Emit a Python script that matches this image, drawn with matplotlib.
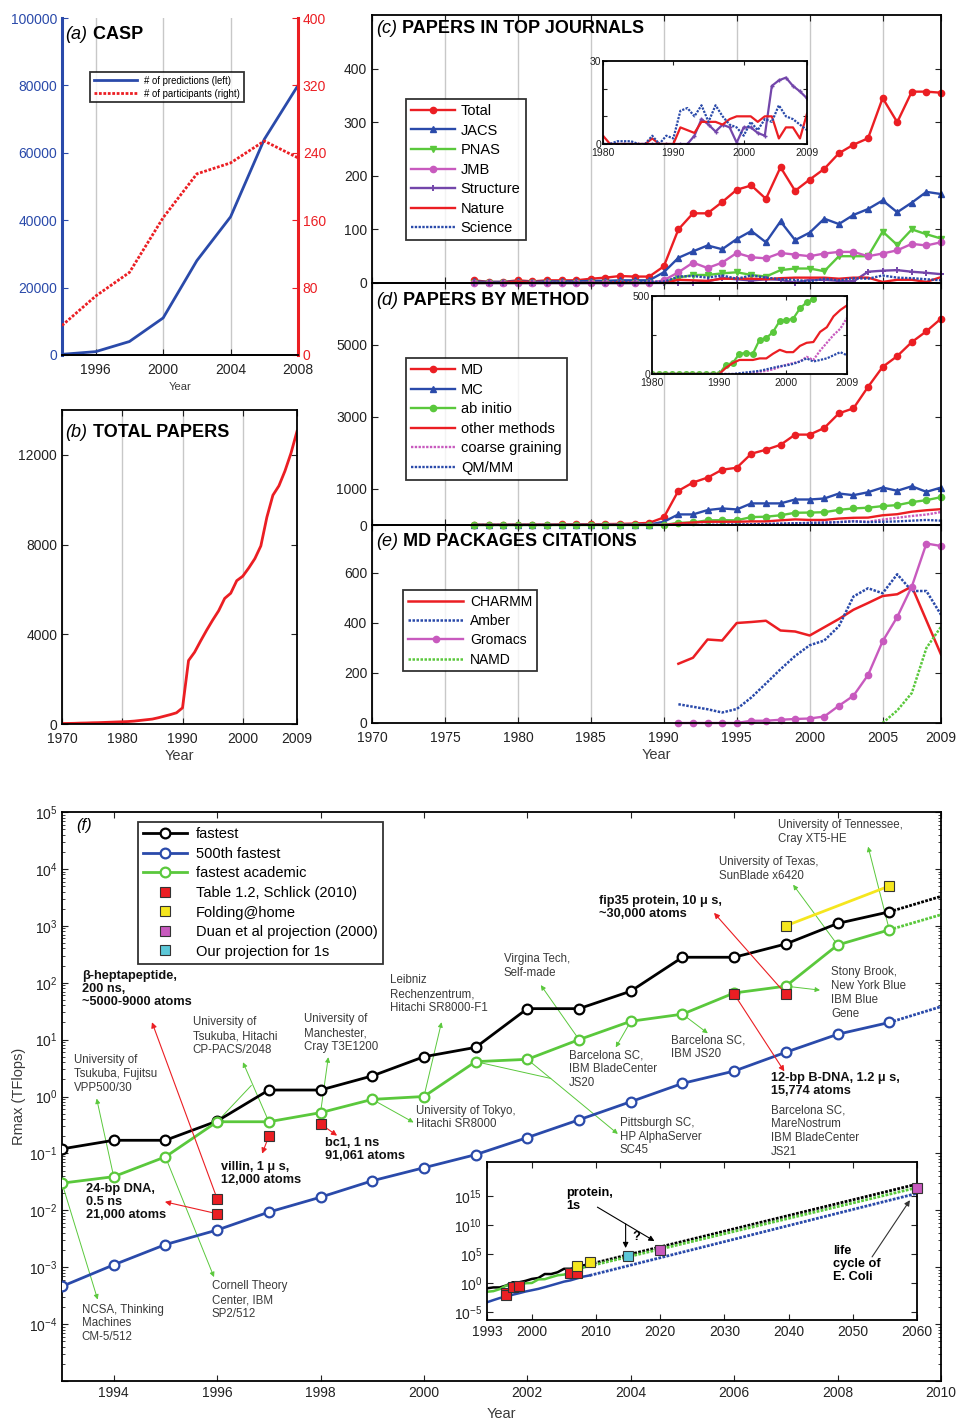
import matplotlib.pyplot as plt
from matplotlib.lines import Line2D
from matplotlib.ticker import LogLocator, NullFormatter

plt.rcParams['font.family'] = ['Liberation Sans', 'DejaVu Sans']
plt.rcParams['mathtext.default'] = 'regular'
plt.rcParams['xtick.direction'] = 'in'
plt.rcParams['ytick.direction'] = 'in'
plt.rcParams['axes.linewidth'] = 1.3
plt.rcParams['xtick.major.size'] = 4
plt.rcParams['ytick.major.size'] = 4
plt.rcParams['xtick.labelsize'] = 10
plt.rcParams['ytick.labelsize'] = 10
plt.rcParams['xtick.color'] = '#222222'
plt.rcParams['ytick.color'] = '#222222'

RED = '#eb1e23'
BLUE = '#2a4aaa'
GREEN = '#5ac83c'
MAG = '#c85abe'
PURP = '#7346aa'
YEL = '#f5e61e'
CYAN = '#5cc8d8'
GRAY = '#3a3a3a'
GRID = '#c8c8c8'

# ---------------- data ----------------
# (a) CASP
casp_years = [1994, 1996, 1998, 2000, 2002, 2004, 2006, 2008]
casp_predictions = [200, 1000, 4000, 11000, 28000, 41000, 64000, 80000]
casp_participants = [35, 70, 98, 163, 215, 228, 254, 234]

# (b) total papers
b_years = list(range(1970, 2010))
total_papers = [20, 25, 30, 40, 45, 55, 60, 70, 80, 90,
                100, 110, 130, 160, 190, 220, 280, 350, 420, 500,
                720, 2830, 3200, 3700, 4180, 4630, 5050, 5600, 5830, 6390,
                6590, 6960, 7370, 7940, 9220, 10200, 10620, 11280, 12075, 13050]

# (c) papers in top journals, 1977-2009
c_years = list(range(1977, 2010))
c_total = [5, 2, 2, 5, 3, 5, 5, 5, 8, 10, 13, 12, 12, 31, 100, 130, 130, 151, 174, 182,
           157, 216, 172, 193, 213, 242, 258, 270, 345, 300, 357, 357, 355]
c_jacs = [3, 2, 2, 3, 2, 3, 3, 3, 4, 4, 5, 5, 5, 20, 47, 59, 70, 63, 82, 97,
          76, 115, 80, 94, 120, 110, 127, 138, 154, 132, 150, 170, 166]
c_pnas = [0, 0, 0, 0, 0, 0, 0, 0, 0, 0, 0, 0, 0, 2, 10, 15, 15, 18, 20, 15,
          12, 24, 27, 27, 22, 50, 50, 50, 96, 71, 100, 91, 83]
c_jmb = [0, 0, 0, 0, 0, 0, 0, 0, 0, 0, 0, 0, 0, 5, 20, 38, 28, 38, 56, 48,
         46, 56, 53, 50, 55, 58, 58, 50, 55, 61, 73, 70, 76]
c_structure = [0, 0, 0, 0, 0, 0, 0, 0, 0, 0, 0, 0, 0, 0, 0, 0, 3, 9, 7, 4.5,
               7, 6, 0.5, 6, 6, 4, 3, 21, 23, 24, 21, 19, 16.5]
c_nature = [0, 0, 0, 3, 0, 0, 0, 0, 0, 0, 2, 0, 0, 0, 6, 5, 4, 8, 8, 8,
            7, 9, 10, 10, 10, 8, 10, 10, 2, 6, 6, 2, 11]
c_science = [0, 0, 0, 0, 0, 1, 1, 1, 0, 0, 3, 0, 3, 2, 12, 13, 10, 14, 8, 14,
             10, 7, 6, 3, 8, 5, 9, 8, 14, 10, 9, 7, 5]

# (d) papers by method, 1977-2009
d_years = list(range(1977, 2010))
d_md = [5, 5, 5, 10, 10, 10, 15, 20, 20, 25, 30, 40, 60, 210, 950, 1180, 1316, 1536, 1590, 1980,
        2090, 2226, 2510, 2510, 2695, 3100, 3240, 3836, 4390, 4690, 5080, 5380, 5730]
d_mc = [2, 2, 2, 3, 3, 3, 4, 5, 5, 6, 8, 10, 12, 90, 294, 294, 414, 460, 432, 600,
        600, 600, 708, 708, 736, 874, 828, 910, 1040, 950, 1076, 920, 1040]
d_abinitio = [0, 0, 0, 0, 0, 0, 0, 0, 0, 0, 0, 0, 0, 0, 60, 70, 130, 135, 130, 220,
              230, 270, 340, 345, 355, 420, 460, 480, 525, 552, 635, 690, 773]
d_other = [0, 0, 0, 0, 0, 0, 0, 0, 0, 0, 0, 0, 0, 0, 40, 70, 90, 90, 90, 100,
           100, 130, 155, 140, 140, 180, 200, 205, 270, 300, 370, 410, 440]
d_coarse = [0, 0, 0, 0, 0, 0, 0, 0, 0, 0, 0, 0, 0, 0, 0, 0, 0, 0, 10, 15,
            20, 30, 45, 60, 70, 80, 110, 90, 150, 200, 250, 290, 360]
d_qmmm = [0, 0, 0, 0, 0, 0, 0, 0, 0, 0, 0, 0, 0, 0, 0, 0, 5, 10, 15, 20,
          30, 40, 50, 55, 65, 80, 100, 80, 90, 100, 120, 140, 120]

# (e) MD package citations, 1991-2009
e_years = list(range(1991, 2010))
e_charmm = [237, 261, 334, 330, 400, 404, 409, 370, 366, 350, 383, 416, 453, 480, 508, 515, 546, 410, 274]
e_amber = [75, 65, 55, 42, 56, 102, 158, 215, 268, 311, 330, 387, 506, 539, 519, 595, 528, 528, 433]
e_gromacs = [0, 0, 0, 0, 0, 9, 9, 13, 16, 18, 26, 69, 109, 192, 327, 424, 546, 718, 708]
namd_years = [2005, 2006, 2007, 2008, 2009]
e_namd = [0, 50, 120, 300, 385]

# (f) Top500 Rmax (TFlops), 1993-2009
top_years = list(range(1993, 2010))
fastest = [0.12, 0.17, 0.17, 0.37, 1.3, 1.3, 2.3, 5.0, 7.3, 35, 35, 71, 280, 280, 480, 1100, 1760]
fastest_500 = [4.6e-4, 1.1e-3, 2.5e-3, 4.5e-3, 9.3e-3, 0.017, 0.033, 0.056, 0.095, 0.19,
               0.39, 0.81, 1.7, 2.8, 6.0, 12.4, 20]
academic = [0.030, 0.039, 0.087, 0.36, 0.36, 0.52, 0.89, 1.0, 4.1, 4.5, 10, 21, 28, 66, 87, 460, 850]
proj_years = [2009, 2060]
fastest_proj = [1760, 1.2e17]
fastest_500_proj = [20, 3e15]
academic_proj = [850, 3e16]
schlick_years = [1996, 1996, 1997, 1998, 2006, 2007]
schlick_vals = [0.016, 0.0087, 0.2, 0.33, 63, 63]
folding_years = [2007, 2009]
folding_vals = [1000, 5000]
duan_years = [2020, 2060]
duan_vals = [5e5, 2.5e16]
ours_years = [2015]
ours_vals = [4.5e4]

# ---------------- figure ----------------
W, H = 959, 1422
fig = plt.figure(figsize=(W / 100, H / 100), dpi=100)


def box(l, t, r, b):
    return [l / W, 1 - b / H, (r - l) / W, (b - t) / H]


def panel_title(ax, x, y, letter, title, size=13):
    t = ax.text(x, y, letter, transform=ax.transAxes, fontsize=size, style='italic',
                va='top', ha='left', zorder=10)
    if title:
        ax.annotate(' ' + title, xy=(1, 0), xycoords=t, va='bottom', ha='left',
                    fontsize=size, weight='bold', zorder=10)


def boxed(ax):
    ax.tick_params(top=True, right=True, which='both')
    ax.set_axisbelow(True)


def frame_legend(leg):
    fr = leg.get_frame()
    fr.set_edgecolor('black')
    fr.set_linewidth(1.3)
    fr.set_boxstyle('square', pad=0)


# (a) CASP
ax_a = fig.add_axes(box(62, 18, 298, 355))
ax_a2 = ax_a.twinx()
la, = ax_a.plot(casp_years, casp_predictions, color=BLUE, lw=2, label='# of predictions (left)')
lb, = ax_a2.plot(casp_years, casp_participants, color=RED, lw=2, ls=(0, (1, 0.6)),
                 label='# of participants (right)')
ax_a.set_xlim(1994, 2008)
ax_a.set_ylim(0, 100000)
ax_a2.set_ylim(0, 400)
ax_a.set_xticks([1996, 2000, 2004, 2008])
ax_a.set_yticks(range(0, 100001, 20000))
ax_a2.set_yticks(range(0, 401, 80))
ax_a.xaxis.grid(True, color=GRID, lw=1)
ax_a.set_axisbelow(True)
ax_a.tick_params(axis='y', colors=BLUE)
ax_a.tick_params(axis='x', pad=6)
ax_a2.tick_params(axis='y', colors=RED)
for s in ['top', 'right']:
    ax_a.spines[s].set_visible(False)
for s in ['top', 'left']:
    ax_a2.spines[s].set_visible(False)
ax_a.spines['left'].set_color(BLUE)
ax_a.spines['left'].set_linewidth(2.2)
ax_a2.spines['right'].set_color(RED)
ax_a2.spines['right'].set_linewidth(2.2)
ax_a.set_xlabel('Year', fontsize=8, color=GRAY, labelpad=3)
panel_title(ax_a, 0.015, 0.976, '(a)', 'CASP')
leg = ax_a.legend(handles=[la, lb], loc='upper left', bbox_to_anchor=(0.118, 0.84),
                  fontsize=6.9, handlelength=4.5, borderaxespad=0, labelspacing=0.3,
                  borderpad=0.4, fancybox=False)
frame_legend(leg)

# (b) total papers
ax_b = fig.add_axes(box(62, 410, 297, 724))
ax_b.plot(b_years, total_papers, color=RED, lw=2)
ax_b.set_xlim(1970, 2009)
ax_b.set_ylim(0, 14000)
ax_b.set_xticks([1970, 1980, 1990, 2000, 2009])
ax_b.set_yticks([0, 4000, 8000, 12000])
ax_b.xaxis.grid(True, color=GRID, lw=1)
boxed(ax_b)
ax_b.tick_params(axis='x', pad=6)
ax_b.set_xlabel('Year', fontsize=10.5, color=GRAY, labelpad=2)
panel_title(ax_b, 0.015, 0.957, '(b)', 'TOTAL PAPERS')

# (c), (d), (e) shared year axis
decade_ticks = [1970, 1975, 1980, 1985, 1990, 1995, 2000, 2005, 2009]
ax_c = fig.add_axes(box(372, 15, 941, 283))
ax_d = fig.add_axes(box(372, 283, 941, 525))
ax_e = fig.add_axes(box(372, 525, 941, 723))
for ax in (ax_c, ax_d, ax_e):
    ax.set_xlim(1970, 2009)
    ax.set_xticks(decade_ticks)
    ax.xaxis.grid(True, color=GRID, lw=1)
    boxed(ax)
for ax in (ax_d, ax_e):
    ax.patch.set_visible(False)
ax_c.tick_params(labelbottom=False)
ax_d.tick_params(labelbottom=False)

leg_kw = dict(loc='upper left', fontsize=10.5, handlelength=3, borderaxespad=0,
              labelspacing=0.38, borderpad=0.35, handletextpad=0.4, fancybox=False)

mk = dict(ms=4.5, lw=1.7, clip_on=False)
h_total, = ax_c.plot(c_years, c_total, color=RED, marker='o', label='Total', **mk)
h_jacs, = ax_c.plot(c_years, c_jacs, color=BLUE, marker='^', label='JACS', **mk)
h_pnas, = ax_c.plot(c_years, c_pnas, color=GREEN, marker='v', label='PNAS', **mk)
h_jmb, = ax_c.plot(c_years, c_jmb, color=MAG, marker='o', label='JMB', **mk)
h_str, = ax_c.plot(c_years, c_structure, color=PURP, marker='+', ms=4, mew=1.4, lw=1.7,
                   clip_on=False, label='Structure')
h_nat, = ax_c.plot(c_years, c_nature, color=RED, lw=1.7, label='Nature')
h_sci, = ax_c.plot(c_years, c_science, color=BLUE, lw=1.7, ls=(0, (1, 0.6)), label='Science')
ax_c.set_ylim(0, 500)
ax_c.set_yticks([0, 100, 200, 300, 400])
panel_title(ax_c, 0.007, 0.98, '(c)', 'PAPERS IN TOP JOURNALS')
leg = ax_c.legend(handles=[h_total, h_jacs, h_pnas, h_jmb, h_str, h_nat, h_sci],
                  bbox_to_anchor=(0.06, 0.687), **leg_kw)
frame_legend(leg)

ins_c = fig.add_axes(box(603, 61, 807, 144))
ins_c.plot(c_years, c_structure, color=PURP, marker='+', ms=3, lw=1.6)
ins_c.plot(c_years, c_nature, color=RED, lw=1.6)
ins_c.plot(c_years, c_science, color=BLUE, lw=1.6, ls=(0, (1, 0.6)))
ins_c.set_xlim(1980, 2009)
ins_c.set_ylim(0, 30)
ins_c.set_xticks([1980, 1990, 2000, 2009])
ins_c.set_yticks([0, 10, 20, 30])
ins_c.set_yticklabels(['0', '', '', '30'])
ins_c.tick_params(labelsize=7.5, length=3, pad=1.5, top=True, right=True)
ins_c.tick_params(axis='x', pad=3)

h_md, = ax_d.plot(d_years, d_md, color=RED, marker='o', label='MD', **mk)
h_mc, = ax_d.plot(d_years, d_mc, color=BLUE, marker='^', label='MC', **mk)
h_ab, = ax_d.plot(d_years, d_abinitio, color=GREEN, marker='o', label='ab initio', **mk)
h_oth, = ax_d.plot(d_years, d_other, color=RED, lw=1.7, label='other methods')
h_cg, = ax_d.plot(d_years, d_coarse, color=MAG, lw=1.7, ls=(0, (1, 0.6)), label='coarse graining')
h_qm, = ax_d.plot(d_years, d_qmmm, color=BLUE, lw=1.7, ls=(0, (1, 0.6)), label='QM/MM')
ax_d.set_ylim(0, 6720)
ax_d.set_yticks([0, 1000, 3000, 5000])
panel_title(ax_d, 0.007, 0.963, '(d)', 'PAPERS BY METHOD')
leg = ax_d.legend(handles=[h_md, h_mc, h_ab, h_oth, h_cg, h_qm],
                  bbox_to_anchor=(0.06, 0.69), **leg_kw)
frame_legend(leg)

ins_d = fig.add_axes(box(652, 296, 847, 374))
ins_d.plot(d_years, d_abinitio, color=GREEN, marker='o', ms=4, lw=1.6)
ins_d.plot(d_years, d_other, color=RED, lw=1.6)
ins_d.plot(d_years, d_coarse, color=MAG, lw=1.6, ls=(0, (1, 0.6)))
ins_d.plot(d_years, d_qmmm, color=BLUE, lw=1.6, ls=(0, (1, 0.6)))
ins_d.set_xlim(1980, 2009)
ins_d.set_ylim(0, 500)
ins_d.set_xticks([1980, 1990, 2000, 2009])
ins_d.set_yticks([0, 250, 500])
ins_d.set_yticklabels(['0', '', '500'])
ins_d.tick_params(labelsize=7.5, length=3, pad=1.5, top=True, right=True)
ins_d.tick_params(axis='x', pad=3)

h_ch, = ax_e.plot(e_years, e_charmm, color=RED, lw=1.8, label='CHARMM')
h_am, = ax_e.plot(e_years, e_amber, color=BLUE, lw=1.8, ls=(0, (1, 0.6)), label='Amber')
h_gr, = ax_e.plot(e_years, e_gromacs, color=MAG, marker='o', label='Gromacs', **mk)
h_na, = ax_e.plot(namd_years, e_namd, color=GREEN, lw=1.8, ls=(0, (1, 0.6)), label='NAMD')
ax_e.set_ylim(0, 792)
ax_e.set_yticks([0, 200, 400, 600])
ax_e.set_xticklabels([str(v) for v in decade_ticks])
ax_e.tick_params(axis='x', pad=6)
ax_e.set_xlabel('Year', fontsize=10.5, color=GRAY, labelpad=2)
panel_title(ax_e, 0.007, 0.96, '(e)', 'MD PACKAGES CITATIONS')
leg = ax_e.legend(handles=[h_ch, h_am, h_gr, h_na], bbox_to_anchor=(0.0545, 0.672),
                  **dict(leg_kw, fontsize=10, handlelength=4, handletextpad=0.5))
frame_legend(leg)

# (f) computing power
ax_f = fig.add_axes(box(62, 812, 941, 1381))
circ = dict(marker='o', ms=7, mfc='white', mew=1.6, lw=2)
h_f1, = ax_f.plot(top_years, fastest, color='black', label='fastest', zorder=4, **circ)
h_f2, = ax_f.plot(top_years, fastest_500, color=BLUE, label='500th fastest', zorder=4, **circ)
h_f3, = ax_f.plot(top_years, academic, color=GREEN, label='fastest academic', zorder=4, **circ)
for vals, c in ((fastest_proj, 'black'), (fastest_500_proj, BLUE), (academic_proj, GREEN)):
    ax_f.plot(proj_years, vals, color=c, lw=2, ls=(0, (1, 0.5)), zorder=3)
ax_f.plot(folding_years, folding_vals, color=YEL, lw=2, zorder=4)
sq = dict(ls='none', marker='s', ms=7.5, mec='#333333', mew=0.8, zorder=6)
h_s1, = ax_f.plot(schlick_years, schlick_vals, mfc=RED, label='Table 1.2, Schlick (2010)', **sq)
h_s2, = ax_f.plot(folding_years, folding_vals, mfc=YEL, label='Folding@home', **sq)
h_s3 = Line2D([], [], mfc=MAG, label='Duan et al projection (2000)', **sq)
h_s4 = Line2D([], [], mfc=CYAN, label='Our projection for 1s', **sq)
ax_f.set_yscale('log')
ax_f.set_xlim(1993, 2010)
ax_f.set_ylim(1e-5, 1e5)
ax_f.set_xticks(range(1994, 2011, 2))
ax_f.set_yticks([10.0 ** k for k in range(-5, 6)])
ax_f.set_yticklabels([''] + ['$10^{%d}$' % k for k in range(-4, 6)])
ax_f.yaxis.set_minor_locator(LogLocator(base=10, subs=range(2, 10), numticks=20))
ax_f.yaxis.set_minor_formatter(NullFormatter())
ax_f.tick_params(which='minor', length=2.5)
boxed(ax_f)
ax_f.set_xlabel('Year', fontsize=10.5, color=GRAY, labelpad=5)
ax_f.set_ylabel('Rmax (TFlops)', fontsize=10.5, color=GRAY, labelpad=2)
panel_title(ax_f, 0.016, 0.99, '(f)', '', size=12)
leg = ax_f.legend(handles=[h_f1, h_f2, h_f3, h_s1, h_s2, h_s3, h_s4],
                  bbox_to_anchor=(0.0866, 0.982), numpoints=1,
                  **dict(leg_kw, handletextpad=0.6))
frame_legend(leg)

arrow_red = dict(arrowstyle='-|>', color=RED, lw=0.8, mutation_scale=8, shrinkA=0, shrinkB=0)
arrow_green = dict(arrowstyle='-|>', color=GREEN, lw=0.7, mutation_scale=7, shrinkA=0, shrinkB=0)
arrow_black = dict(arrowstyle='-|>', color='black', lw=0.8, mutation_scale=8, shrinkA=0, shrinkB=0)

# simulations: text, text top-left, arrow head, index of Schlick point
sim_notes = [
    ('β-heptapeptide,\n200 ns,\n~5000-9000 atoms', (1993.38, 167), (1994.74, 20.2), 0),
    ('villin, 1 μ s,\n12,000 atoms', (1996.07, 0.074), (1996.87, 0.099), 2),
    ('bc1, 1 ns\n91,061 atoms', (1998.09, 0.197), (1998.32, 0.205), 3),
    ('24-bp DNA,\n0.5 ns\n21,000 atoms', (1993.47, 0.030), (1994.99, 0.0141), 1),
    ('fip35 protein, 10 μ s,\n~30,000 atoms', (2003.38, 3500), (2005.61, 1690), 5),
    ('12-bp B-DNA, 1.2 μ s,\n15,774 atoms', (2006.71, 2.65), (2006.97, 2.76), 4),
]
for text, pos, head, i in sim_notes:
    ax_f.text(pos[0], pos[1], text, fontsize=9.2, weight='bold', color='#111111',
              va='top', ha='left', linespacing=1.1, zorder=7)
    ax_f.annotate('', xy=head, xytext=(schlick_years[i], schlick_vals[i]),
                  arrowprops=arrow_red, zorder=5)
ax_f.text(2006.71, 0.72, 'Barcelona SC,\nMareNostrum\nIBM BladeCenter\nJS21', fontsize=8.3,
          color=GRAY, va='top', ha='left', linespacing=1.2, zorder=7)

# machines: text, text top-left, arrow head, index of academic point
machine_notes = [
    ('NCSA, Thinking\nMachines\nCM-5/512', (1993.38, 2.3e-4), (1993.69, 2.7e-4), 0),
    ('University of\nTsukuba, Fujitsu\nVPP500/30', (1993.23, 5.5), (1993.67, 0.92), 1),
    ('Cornell Theory\nCenter, IBM\nSP2/512', (1995.9, 5.9e-4), (1995.94, 6.7e-4), 2),
    ('University of\nTsukuba, Hitachi\nCP-PACS/2048', (1995.53, 25.7), (1996.5, 4.0), 4),
    ('University of\nManchester,\nCray T3E1200', (1997.68, 29), (1998.15, 4.9), 5),
    ('University of Tokyo,\nHitachi SR8000', (1999.85, 0.72), (1999.8, 0.35), 6),
    ('Leibniz\nRechenzentrum,\nHitachi SR8000-F1', (1999.35, 141), (2000.34, 20.2), 7),
    ('Virgina Tech,\nSelf-made', (2001.54, 331), (2002.26, 90.7), 10),
    ('Barcelona SC,\nIBM BladeCenter\nJS20', (2002.8, 6.7), (2003.71, 7.3), 11),
    ('Barcelona SC,\nIBM JS20', (2004.78, 12.4), (2005.49, 12.9), 12),
    ('Stony Brook,\nNew York Blue\nIBM Blue\nGene', (2007.88, 195), (2007.66, 74), 14),
    ('University of Texas,\nSunBlade x6420', (2005.7, 17000), (2007.14, 5270), 15),
    ('University of Tennessee,\nCray XT5-HE', (2006.85, 74000), (2008.59, 24600), 16),
]
for text, pos, head, i in machine_notes:
    ax_f.text(pos[0], pos[1], text, fontsize=8.3, color=GRAY, va='top', ha='left',
              linespacing=1.2, zorder=7)
    ax_f.annotate('', xy=head, xytext=(top_years[i], academic[i]),
                  arrowprops=arrow_green, zorder=2)
# CP-PACS also covers the 1996 point
ax_f.plot([top_years[3], 1996.66], [academic[3], 1.56], color=GREEN, lw=0.7, zorder=2)
# Pittsburgh SC covers 2001 and 2002
pitt_join = (2002.45, 2.08)
for i in (8, 9):
    ax_f.plot([top_years[i], pitt_join[0]], [academic[i], pitt_join[1]], color=GREEN, lw=0.7, zorder=2)
ax_f.annotate('', xy=(2003.75, 0.22), xytext=pitt_join, arrowprops=arrow_green, zorder=2)
ax_f.text(2003.79, 0.44, 'Pittsburgh SC,\nHP AlphaServer\nSC45', fontsize=8.3, color=GRAY,
          va='top', ha='left', linespacing=1.2, zorder=7)

# inset of (f): projection to 2060
ins_f = fig.add_axes(box(487, 1162, 917, 1320))
for vals, proj, c in ((fastest, fastest_proj, 'black'), (academic, academic_proj, GREEN),
                      (fastest_500, fastest_500_proj, BLUE)):
    ins_f.plot(top_years, vals, color=c, lw=1.8)
    ins_f.plot(proj_years, proj, color=c, lw=2, ls=(0, (1, 0.5)))
sq_in = dict(ls='none', marker='s', ms=7, mec='#333333', mew=0.8, zorder=6)
ins_f.plot(schlick_years, schlick_vals, mfc=RED, **sq_in)
ins_f.plot(folding_years, folding_vals, mfc=YEL, **sq_in)
ins_f.plot(ours_years, ours_vals, mfc=CYAN, **sq_in)
ins_f.plot(duan_years, duan_vals, mfc=MAG, clip_on=False, **sq_in)
ins_f.set_yscale('log')
ins_f.set_xlim(1993, 2060)
ins_f.set_ylim(10 ** -6.4, 10 ** 20.9)
ins_f.set_xticks([1993] + list(range(2000, 2061, 10)))
ins_f.set_yticks([1e-5, 1e0, 1e5, 1e10, 1e15])
ins_f.set_yticklabels(['$10^{-5}$', '$10^{0}$', '$10^{5}$', '$10^{10}$', '$10^{15}$'])
ins_f.yaxis.set_minor_locator(plt.NullLocator())
ins_f.tick_params(top=True, right=True, labelsize=10)
ins_f.text(2005.3, 3.5e16, 'protein,\n1s', fontsize=9.2, weight='bold', va='top', ha='left',
           linespacing=1.1)
ins_f.annotate('', xy=(2019.1, 1.7e7), xytext=(2010.2, 1.26e13), arrowprops=arrow_black)
ins_f.annotate('', xy=(2014.6, 1.07e6), xytext=(2014.6, 1.6e10), arrowprops=arrow_black)
ins_f.text(2015.7, 8e7, '?', fontsize=9.2, weight='bold', va='center', ha='left')
ins_f.text(2046.9, 3.5e6, 'life\ncycle of\nE. Coli', fontsize=9.2, weight='bold', va='top',
           ha='left', linespacing=1.1)
ins_f.annotate('', xy=(2058.9, 2e14), xytext=(2053, 3.2e4),
               arrowprops=dict(arrow_black, color='#333333'))

fig.savefig('out.png', dpi=100)
